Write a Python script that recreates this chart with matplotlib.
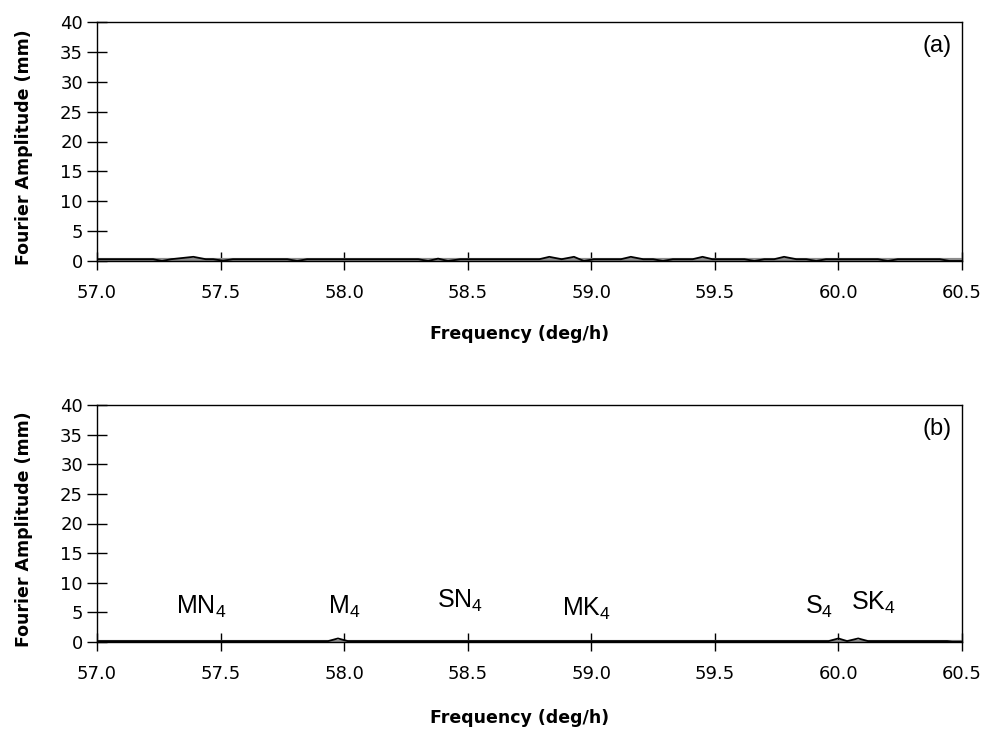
import matplotlib
matplotlib.use("Agg")
import matplotlib.pyplot as plt

plt.rcParams['font.family'] = ['DejaVu Sans']
plt.rcParams['mathtext.fontset'] = 'custom'
plt.rcParams['mathtext.rm'] = 'Liberation Sans'
plt.rcParams['mathtext.it'] = 'Liberation Sans'
plt.rcParams['mathtext.bf'] = 'Liberation Sans:bold'
plt.rcParams['mathtext.default'] = 'rm'

# Panel (a): spectrum vertices (frequency in deg/h, amplitude in mm)
freq_a = [57.0, 57.227, 57.263, 57.30, 57.39, 57.44, 57.47, 57.51, 57.55, 57.77,
          57.81, 57.85, 58.30, 58.34, 58.38, 58.42, 58.47, 58.79, 58.83, 58.88,
          58.93, 58.97, 59.01, 59.12, 59.16, 59.21, 59.25, 59.29, 59.33, 59.41,
          59.45, 59.49, 59.62, 59.66, 59.70, 59.74, 59.78, 59.83, 59.87, 59.91,
          59.95, 60.16, 60.20, 60.24, 60.41, 60.45, 60.5]
amp_a = [0.3, 0.3, 0.0, 0.3, 0.7, 0.3, 0.3, 0.05, 0.3, 0.3,
         0.0, 0.3, 0.3, 0.0, 0.4, 0.0, 0.3, 0.3, 0.7, 0.3,
         0.7, 0.0, 0.3, 0.3, 0.7, 0.3, 0.3, 0.0, 0.3, 0.3,
         0.7, 0.3, 0.3, 0.0, 0.3, 0.3, 0.7, 0.3, 0.3, 0.0,
         0.3, 0.3, 0.0, 0.3, 0.3, 0.0, 0.0]
ref_freq_a = [57.0, 60.5]
ref_amp_a = [0.1, 0.1]

# Panel (b): spectrum vertices
freq_b = [57.0, 57.935, 57.975, 58.015, 59.96, 60.0, 60.035, 60.08, 60.12, 60.44, 60.46, 60.5]
amp_b = [0.15, 0.15, 0.6, 0.15, 0.15, 0.6, 0.15, 0.6, 0.15, 0.15, 0.05, 0.05]
ref_freq_b = [57.0, 60.5]
ref_amp_b = [0.0, 0.0]

# Tidal constituent labels for panel (b)
const_names = [r'MN$_4$', r'M$_4$', r'SN$_4$', r'MK$_4$', r'S$_4$', r'SK$_4$']
const_freq = [57.42, 58.0, 58.47, 58.98, 59.92, 60.14]
const_ypos = [6.0, 6.0, 6.9, 5.6, 6.0, 6.6]

x_ticks = [57.0, 57.5, 58.0, 58.5, 59.0, 59.5, 60.0, 60.5]
y_ticks = [0, 5, 10, 15, 20, 25, 30, 35, 40]

fig = plt.figure(figsize=(9.9, 7.29), dpi=100)
ax_a = fig.add_axes([97/990, 1-261/729, 865/990, 239/729])
ax_b = fig.add_axes([97/990, 1-642/729, 865/990, 237/729])


def style(ax, tag, xlabel_y):
    ax.set_xlim(57.0, 60.5)
    ax.set_ylim(0, 40)
    ax.set_xticks(x_ticks)
    ax.set_xticklabels([f"{v:.1f}" for v in x_ticks])
    ax.set_yticks(y_ticks)
    ax.tick_params(axis='x', direction='inout', length=13, width=1, labelsize=13, pad=10)
    ax.tick_params(axis='y', direction='inout', length=14, width=1, labelsize=13, pad=3)
    for s in ax.spines.values():
        s.set_linewidth(1)
        s.set_color('black')
    ax.set_xlabel('Frequency (deg/h)', fontsize=12.5, fontweight='bold', va='top')
    ax.set_ylabel('Fourier Amplitude (mm)', fontsize=12.5, fontweight='bold')
    ax.xaxis.set_label_coords(0.489, xlabel_y)
    ax.yaxis.set_label_coords(-0.074, 0.475)
    ax.text(0.971, 0.90, tag, transform=ax.transAxes, ha='center', va='center',
            fontsize=17, family='Liberation Sans')


ax_a.plot(ref_freq_a, ref_amp_a, color='#8c8c8c', lw=3, solid_capstyle='butt', zorder=2)
ax_a.plot(freq_a, amp_a, color='black', lw=1.3, zorder=3)
style(ax_a, '(a)', -0.268)

ax_b.plot(ref_freq_b, ref_amp_b, color='#8c8c8c', lw=3, solid_capstyle='butt', zorder=2)
ax_b.plot(freq_b, amp_b, color='black', lw=1.3, zorder=3)
style(ax_b, '(b)', -0.283)
for name, f, y in zip(const_names, const_freq, const_ypos):
    ax_b.text(f, y, name, ha='center', va='center', fontsize=18, family='Liberation Sans')

fig.savefig('out.png', dpi=100)
